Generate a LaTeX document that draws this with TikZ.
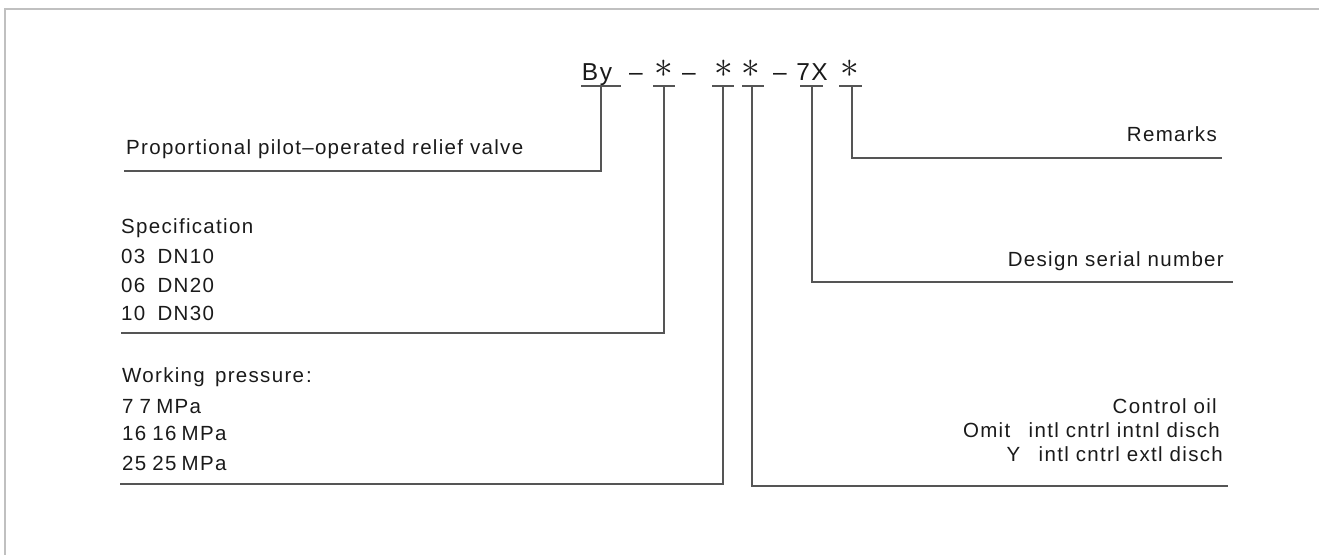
\documentclass[tikz,border=0pt]{standalone}
\usepackage{fontspec}
\setmainfont{Liberation Sans}[LetterSpace=6.4]
\newfontfamily\titlefont{Liberation Sans}[LetterSpace=6]
\definecolor{txt}{HTML}{1A1A1A}
\definecolor{ln}{HTML}{555555}
\definecolor{framec}{HTML}{C0C0C0}
\newcommand{\tstar}{\raisebox{2.5pt}{\scalebox{1.5}{\fontsize{24}{24}\selectfont$\ast$}}}
\begin{document}
\begin{tikzpicture}[x=1pt,y=-1pt,
  lbl/.style={inner sep=0pt, font=\fontsize{20.5}{24}\selectfont, text=txt},
  ttl/.style={inner sep=0pt, font=\titlefont\fontsize{24.5}{28}\selectfont, text=txt, anchor=base},
  lead/.style={draw=ln, line width=1.3pt},
  uline/.style={draw=ln, line width=1.2pt}]
\useasboundingbox (0,0) rectangle (1319,554);
\draw[framec, line width=2pt] (5,570) -- (5,9) -- (1330,9);
% title
\node[ttl] (tBy) at (597,80) {By};
\node[ttl] (d1) at (636,80) {–};
\node[ttl] (s1) at (664,80) {\tstar};
\node[ttl] (d2) at (689,80) {–};
\node[ttl] (s2) at (724,80) {\tstar};
\node[ttl] (s3) at (751,80) {\tstar};
\node[ttl] (d3) at (780,80) {–};
\node[ttl] (t7X) at (812,80) {7X};
\node[ttl] (s4) at (850,80) {\tstar};
% underlines
\draw[uline] (581,86) -- (621,86);
\draw[uline] (653,86) -- (675,86);
\draw[uline] (712,86) -- (734,86);
\draw[uline] (742,86) -- (764,86);
\draw[uline] (800,86) -- (823,86);
\draw[uline] (839,86) -- (862,86);
% left texts
\node[lbl, anchor=base west] (prop) at (126,154) {Proportional pilot–operated relief valve};
\node[lbl, anchor=base west] (spec) at (121,233) {Specification};
\node[lbl, anchor=base west] (sp1) at (121,263) {03\hspace{0.6em}DN10};
\node[lbl, anchor=base west] (sp2) at (121,292) {06\hspace{0.6em}DN20};
\node[lbl, anchor=base west] (sp3) at (121,320) {10\hspace{0.6em}DN30};
\node[lbl, anchor=base west] (wp) at (122,382) {Working\hspace{0.5em}pressure\hspace{0.1em}:};
\node[lbl, anchor=base west] (wp1) at (122,413) {7\hspace{0.3em}7\hspace{0.25em}MPa};
\node[lbl, anchor=base west] (wp2) at (122,440) {16\hspace{0.3em}16\hspace{0.25em}MPa};
\node[lbl, anchor=base west] (wp3) at (122,470) {25\hspace{0.3em}25\hspace{0.25em}MPa};
% right texts
\node[lbl, anchor=base east] (rem) at (1217,141) {Remarks};
\node[lbl, anchor=base east] (des) at (1224,266) {Design serial number};
\node[lbl, anchor=base east] (co) at (1217,413) {Control oil};
\node[lbl, anchor=base east] (co1) at (1220,437) {Omit\hspace{0.9em}intl cntrl intnl disch};
\node[lbl, anchor=base east] (co2) at (1223,461) {Y\hspace{0.9em}intl cntrl extl disch};
% leaders
\coordinate (aBy) at (601,86);
\coordinate (a1) at (664,86);
\coordinate (a2) at (723,86);
\coordinate (a3) at (752,86);
\coordinate (a4) at (812,86);
\coordinate (a5) at (852,86);
\coordinate (eBy) at (124,171);
\coordinate (e1) at (121,333);
\coordinate (e2) at (120,484);
\coordinate (e3) at (1228,486);
\coordinate (e4) at (1233,282);
\coordinate (e5) at (1222,158);
\draw[lead] (aBy) |- (eBy);
\draw[lead] (a1) |- (e1);
\draw[lead] (a2) |- (e2);
\draw[lead] (a3) |- (e3);
\draw[lead] (a4) |- (e4);
\draw[lead] (a5) |- (e5);
\end{tikzpicture}
\end{document}
